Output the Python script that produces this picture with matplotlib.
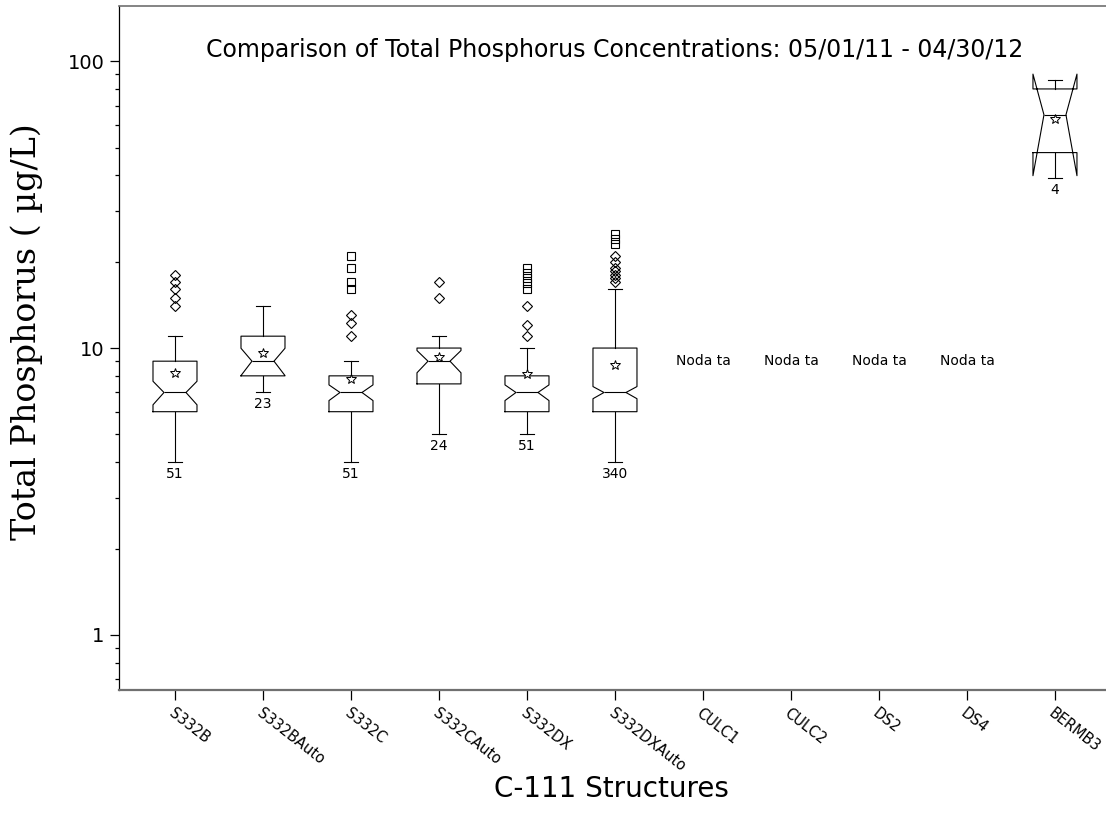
import numpy as np
import matplotlib
matplotlib.use("Agg")
import matplotlib.pyplot as plt
from matplotlib.ticker import FixedLocator, NullFormatter, LogLocator

# Monitoring structures along the C-111 canal
categories = ["S332B", "S332BAuto", "S332C", "S332CAuto", "S332DX",
              "S332DXAuto", "CULC1", "CULC2", "DS2", "DS4", "BERMB3"]
n_obs = [51, 23, 51, 24, 51, 340, 0, 0, 0, 0, 4]

# Box statistics (ug/L); None where a station had no samples
whisker_low = [4.0, 7.0, 4.0, 5.0, 5.0, 4.0, None, None, None, None, 39.0]
quartile_1 = [6.0, 8.0, 6.0, 7.5, 6.0, 6.0, None, None, None, None, 48.0]
median = [7.0, 9.0, 7.0, 9.0, 7.0, 7.0, None, None, None, None, 65.0]
quartile_3 = [9.0, 11.0, 8.0, 10.0, 8.0, 10.0, None, None, None, None, 80.0]
whisker_high = [11.0, 14.0, 9.0, 11.0, 10.0, 16.0, None, None, None, None, 86.0]
mean = [8.2, 9.6, 7.8, 9.3, 8.15, 8.75, None, None, None, None, 63.0]

# Outliers beyond 1.5 IQR (diamonds) and beyond 3 IQR (squares)
mild_outliers = [
    [14, 15, 16, 17, 18],
    [],
    [11, 12.2, 13],
    [15, 17],
    [11, 12, 14],
    [17, 17.5, 18, 18.5, 19, 20, 21],
    [], [], [], [], [],
]
extreme_outliers = [
    [],
    [],
    [16, 17, 19, 21],
    [],
    [16, 16.8, 17.5, 18.3, 19],
    [23, 24, 25],
    [], [], [], [], [],
]

no_data_value = 9.0
title = "Comparison of Total Phosphorus Concentrations: 05/01/11 - 04/30/12"
y_ticks = [1, 10, 100]
y_tick_labels = ["1", "10", "100"]

SANS = ["DejaVu Sans"]
SERIF = ["DejaVu Serif"]

positions = np.arange(1, len(categories) + 1)

fig = plt.figure(figsize=(11.06, 8.31), dpi=100)
ax = fig.add_axes([0.1073, 0.1697, 0.8927, 0.8234])

stats, box_pos = [], []
for i, name in enumerate(categories):
    if median[i] is None:
        continue
    iqr = quartile_3[i] - quartile_1[i]
    half_notch = 1.57 * iqr / np.sqrt(n_obs[i])
    stats.append(dict(label=name, med=median[i], q1=quartile_1[i],
                      q3=quartile_3[i], whislo=whisker_low[i],
                      whishi=whisker_high[i], mean=mean[i],
                      cilo=median[i] - half_notch, cihi=median[i] + half_notch,
                      fliers=[]))
    box_pos.append(positions[i])

line = dict(color="black", linewidth=0.8)
ax.bxp(stats, positions=box_pos, widths=0.5, capwidths=0.163,
       shownotches=True, showmeans=True, showfliers=False,
       boxprops=line, whiskerprops=line, capprops=line,
       medianprops=line, manage_ticks=False,
       meanprops=dict(marker="*", markersize=7, markerfacecolor="white",
                      markeredgecolor="black", markeredgewidth=0.7))

for i, pos in enumerate(positions):
    if mild_outliers[i]:
        ax.plot([pos] * len(mild_outliers[i]), mild_outliers[i], linestyle="none",
                marker="D", markersize=5.6, markerfacecolor="none",
                markeredgecolor="black", markeredgewidth=0.8)
    if extreme_outliers[i]:
        ax.plot([pos] * len(extreme_outliers[i]), extreme_outliers[i],
                linestyle="none", marker="s", markersize=6.4,
                markerfacecolor="none", markeredgecolor="black",
                markeredgewidth=0.8)
    if median[i] is None:
        ax.text(pos, no_data_value, "Noda ta", ha="center", va="center",
                fontsize=10, family=SANS)
    else:
        ax.annotate(str(n_obs[i]), xy=(pos, whisker_low[i]), xytext=(0, -8.6),
                    textcoords="offset points", ha="center", va="center",
                    fontsize=10, family=SANS)

ax.set_yscale("log")
ax.set_ylim(0.643, 156)
ax.set_xlim(0.36, 11.58)

ax.yaxis.set_major_locator(FixedLocator(y_ticks))
ax.set_yticklabels(y_tick_labels, fontsize=14, family=SANS)
ax.yaxis.set_minor_locator(LogLocator(base=10, subs=np.arange(2, 10)))
ax.yaxis.set_minor_formatter(NullFormatter())
ax.tick_params(axis="y", which="major", direction="out", length=6.2,
               width=0.9, pad=4.1)
ax.tick_params(axis="y", which="minor", direction="out", length=3.2, width=0.9)

ax.set_xticks(positions)
ax.set_xticklabels(categories, rotation=-38, rotation_mode="anchor",
                   ha="left", va="top", fontsize=10.5, family=SANS)
ax.tick_params(axis="x", direction="out", length=7.2, width=0.9, pad=4.3)

for side in ("top", "bottom"):
    ax.spines[side].set_color("#707070")
ax.spines["bottom"].set_linewidth(1.6)
ax.spines["top"].set_linewidth(1.2)
ax.spines["left"].set_color("black")
ax.spines["left"].set_linewidth(0.9)
ax.spines["right"].set_visible(False)

ax.text(0.5027, 0.935, title, transform=ax.transAxes, ha="center",
        va="center", fontsize=17, family=SANS)

ax.set_ylabel("Total Phosphorus ( µg/L)", fontsize=24, family=SERIF)
ax.yaxis.label.set_verticalalignment("center")
ax.yaxis.set_label_coords(-0.0929, 0.523)

ax.set_xlabel("C-111 Structures", fontsize=20, family=SANS)
ax.xaxis.label.set_verticalalignment("center")
ax.xaxis.set_label_coords(0.4986, -0.1447)

fig.savefig("out.png", dpi=100)
